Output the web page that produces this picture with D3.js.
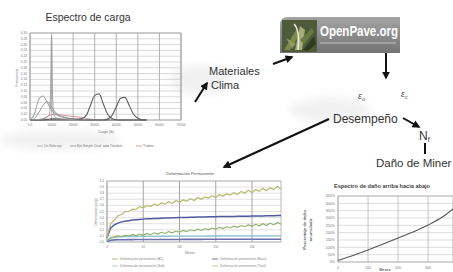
<!DOCTYPE html>
<html>
<head>
<meta charset="utf-8">
<script src="https://cdn.jsdelivr.net/npm/d3@7"></script>
<style>
  body { margin: 0; background: #fff; }
  svg { display: block; font-family: "Liberation Sans", Arial, sans-serif; }
</style>
</head>
<body>
<div id="chart"></div>
<script>
// ---- Espectro de carga (load spectra) ----
const loadBins = [0, 2000, 4000, 6000, 8000, 10000, 12000, 14000, 16000, 18000, 20000, 22000, 24000, 26000, 28000, 30000, 32000, 34000, 36000, 38000, 40000, 42000, 44000, 46000, 48000, 50000, 52000, 54000];
const singleAxle = [0, 0.02, 0.07, 0.083, 0.06, 0.035, 0.02, 0.012, 0.008, 0.005, 0.003, 0.002, 0.001, 0, 0, 0, 0, 0, 0, 0, 0, 0, 0, 0, 0, 0, 0, 0];
const dualAxle = [0, 0.004, 0.025, 0.05, 0.064, 0.045, 0.025, 0.015, 0.01, 0.006, 0.004, 0.002, 0.001, 0, 0, 0, 0, 0, 0, 0, 0, 0, 0, 0, 0, 0, 0, 0];
const tandemAxle = [0, 0, 0, 0, 0.002, 0.004, 0.004, 0.003, 0.002, 0.002, 0.002, 0.003, 0.005, 0.015, 0.05, 0.085, 0.09, 0.055, 0.02, 0.005, 0.001, 0, 0, 0, 0, 0, 0, 0];
const tridemAxle = [0, 0, 0, 0, 0, 0, 0, 0, 0, 0, 0, 0, 0, 0, 0, 0, 0, 0, 0.003, 0.015, 0.045, 0.075, 0.078, 0.05, 0.02, 0.006, 0.001, 0];
const lowAxle = [0, 0, 0, 0.004, 0.012, 0.018, 0.02, 0.018, 0.016, 0.014, 0.012, 0.011, 0.009, 0.006, 0.003, 0.001, 0, 0, 0, 0, 0, 0, 0, 0, 0, 0, 0, 0];
const spikeLoads = [0, 6000, 8000, 9000, 9600, 10000, 10400, 11000, 12000, 14000, 18000, 22000];
const spikeValues = [0, 0.004, 0.01, 0.02, 0.12, 0.29, 0.1, 0.02, 0.008, 0.004, 0.002, 0];
const loadTicks = [0, 10000, 20000, 30000, 40000, 50000, 60000, 70000];
const freqTicks = [0, 0.02, 0.04, 0.06, 0.08, 0.10, 0.12, 0.14, 0.16, 0.18, 0.20, 0.22, 0.24, 0.26, 0.28, 0.30];
const loadLegend = ["Un Solo eje", "Eje Simple Dual", "Tándem", "Trídem"];

// ---- Deformación Permanente ----
const days = [0, 5, 10, 15, 20, 25, 30, 35, 40, 45, 50, 55, 60, 65, 70, 75, 80, 85, 90, 95, 100, 105, 110, 115, 120, 125, 130, 135, 140, 145, 150, 155, 160, 165, 170, 175, 180, 185, 190, 195, 200, 205, 210, 215, 220, 225, 230, 235, 240];
const rutTotal = [0.7, 3.0, 3.6, 4.3, 4.5, 5.0, 5.0, 5.4, 5.3, 5.8, 5.6, 6.0, 5.8, 6.2, 6.0, 6.4, 6.2, 6.6, 6.3, 6.8, 6.5, 6.9, 6.7, 7.1, 6.8, 7.3, 7.0, 7.4, 7.2, 7.6, 7.3, 7.8, 7.5, 7.9, 7.7, 8.1, 7.8, 8.3, 8.0, 8.5, 8.1, 8.6, 8.3, 8.8, 8.4, 8.9, 8.6, 9.1, 8.7];
const rutBase = [0.7, 2.3, 2.8, 3.1, 3.3, 3.4, 3.5, 3.6, 3.65, 3.7, 3.75, 3.8, 3.82, 3.85, 3.87, 3.9, 3.92, 3.94, 3.96, 3.98, 4.0, 4.02, 4.03, 4.05, 4.06, 4.08, 4.09, 4.1, 4.12, 4.13, 4.14, 4.16, 4.17, 4.18, 4.19, 4.2, 4.21, 4.22, 4.23, 4.24, 4.25, 4.26, 4.27, 4.28, 4.29, 4.3, 4.31, 4.33, 4.35];
const rutAC = [0.2, 0.6, 0.8, 1.0, 0.9, 1.1, 1.0, 1.2, 1.05, 1.3, 1.1, 1.4, 1.2, 1.5, 1.3, 1.6, 1.4, 1.7, 1.5, 1.8, 1.6, 1.9, 1.7, 2.0, 1.8, 2.1, 1.9, 2.2, 2.0, 2.3, 2.1, 2.4, 2.2, 2.5, 2.3, 2.6, 2.4, 2.7, 2.5, 2.8, 2.6, 2.9, 2.65, 3.0, 2.7, 3.1, 2.8, 3.2, 2.9];
const rutSub = [0.2, 0.7, 0.8, 0.84, 0.86, 0.88, 0.89, 0.9, 0.9, 0.91, 0.91, 0.92, 0.92, 0.93, 0.93, 0.94, 0.94, 0.94, 0.95, 0.95, 0.95, 0.96, 0.96, 0.96, 0.97, 0.97, 0.97, 0.97, 0.98, 0.98, 0.98, 0.98, 0.99, 0.99, 0.99, 0.99, 1.0, 1.0, 1.0, 1.0, 1.0, 1.01, 1.01, 1.01, 1.01, 1.02, 1.02, 1.02, 1.02];
const rutSG = [0.1, 0.3, 0.35, 0.37, 0.38, 0.38, 0.39, 0.39, 0.4, 0.4, 0.4, 0.4, 0.41, 0.41, 0.41, 0.41, 0.42, 0.42, 0.42, 0.42, 0.42, 0.43, 0.43, 0.43, 0.43, 0.43, 0.43, 0.44, 0.44, 0.44, 0.44, 0.44, 0.44, 0.44, 0.45, 0.45, 0.45, 0.45, 0.45, 0.45, 0.45, 0.45, 0.46, 0.46, 0.46, 0.46, 0.46, 0.46, 0.46];
const dayTicks = [0, 50, 100, 150, 200];
const rutTicks = [0, 1, 2, 3, 4, 5, 6, 7, 8, 9, 10];
const rutLegend = ["Deformación permanente (AC)", "Deformación permanente (Base)", "Deformación permanente (Sub)", "Deformación permanente (Total)"];

// ---- Espectro de daño arriba hacia abajo ----
const months = [0, 50, 100, 150, 200, 250, 300, 350, 385];
const damage = [10, 45, 82, 122, 164, 205, 252, 310, 365];
const monthTicks = [0, 100, 200, 300];
const damageTicks = [0, 50, 100, 150, 200, 250, 300, 350, 400, 450];

const W = 453, H = 272;
const svg = d3.select("#chart").append("svg").attr("width", W).attr("height", H);

const defs = svg.append("defs");
defs.append("marker").attr("id", "arr")
  .attr("viewBox", "0 0 10 10").attr("refX", 8).attr("refY", 5)
  .attr("markerWidth", 4).attr("markerHeight", 4).attr("orient", "auto")
  .append("path").attr("d", "M0,0 L10,5 L0,10 z").attr("fill", "#111");
const lg = defs.append("linearGradient").attr("id", "logoGrad").attr("x1", 0).attr("y1", 0).attr("x2", 0).attr("y2", 1);
lg.append("stop").attr("offset", "0%").attr("stop-color", "#a3a3a3");
lg.append("stop").attr("offset", "100%").attr("stop-color", "#747474");
defs.append("filter").attr("id", "soft").append("feGaussianBlur").attr("stdDeviation", 4);

function gridChart(g, x, y, xTicks, yTicks, opt) {
  g.append("g").selectAll("line").data(yTicks).join("line")
    .attr("x1", x.range()[0]).attr("x2", x.range()[1])
    .attr("y1", d => y(d)).attr("y2", d => y(d))
    .attr("stroke", opt.hGrid).attr("stroke-width", 0.7);
  g.append("g").selectAll("line").data(xTicks).join("line")
    .attr("x1", d => x(d)).attr("x2", d => x(d))
    .attr("y1", y.range()[0]).attr("y2", y.range()[1])
    .attr("stroke", opt.vGrid).attr("stroke-width", 0.9);
  g.append("rect")
    .attr("x", x.range()[0]).attr("y", y.range()[1])
    .attr("width", x.range()[1] - x.range()[0]).attr("height", y.range()[0] - y.range()[1])
    .attr("fill", "none").attr("stroke", opt.border).attr("stroke-width", 0.8);
  g.append("g").selectAll("text").data(xTicks).join("text")
    .attr("x", d => x(d)).attr("y", y.range()[0] + opt.fs + 3)
    .attr("text-anchor", "middle").attr("font-size", opt.fs).attr("fill", "#777")
    .text(opt.xFmt);
  g.append("g").selectAll("text").data(yTicks).join("text")
    .attr("x", x.range()[0] - 3).attr("y", d => y(d) + opt.fs / 3)
    .attr("text-anchor", "end").attr("font-size", opt.fs).attr("fill", "#777")
    .text(opt.yFmt);
}

// faint shadows around the pieces of the collage
const shadows = [[200, 80, 60, 30], [330, 110, 80, 25], [60, 140, 120, 20]];
svg.append("g").attr("filter", "url(#soft)").selectAll("ellipse").data(shadows).join("ellipse")
  .attr("cx", d => d[0]).attr("cy", d => d[1]).attr("rx", d => d[2] / 2).attr("ry", d => d[3] / 2)
  .attr("fill", "#f1f1f1");

// ===== Chart 1 =====
const c1 = svg.append("g");
const x1 = d3.scaleLinear().domain([0, 70000]).range([30, 181]);
const y1 = d3.scaleLinear().domain([0, 0.30]).range([120, 33]);
gridChart(c1, x1, y1, loadTicks, freqTicks, {
  hGrid: "#c8c8c8", vGrid: "#a8a8a8", border: "#999", fs: 3.2,
  xFmt: d => d === 0 ? "0.0" : d3.format("d")(d), yFmt: d => d3.format(".2f")(d)
});
c1.append("text").attr("x", 88).attr("y", 21).attr("text-anchor", "middle")
  .attr("font-size", 10.5).attr("fill", "#333").text("Espectro de carga");
c1.append("text").attr("x", 106).attr("y", 133).attr("text-anchor", "middle")
  .attr("font-size", 3.5).attr("fill", "#777").text("Carga (lb)");
c1.append("text").attr("transform", "translate(18,78) rotate(-90)").attr("text-anchor", "middle")
  .attr("font-size", 3.5).attr("fill", "#777").text("Frecuencia");

const line1 = d3.line().x(d => x1(d[0])).y(d => y1(d[1])).curve(d3.curveMonotoneX);
const loadSeries = [
  { v: lowAxle, c: "#c98a94", w: 0.9 },
  { v: singleAxle, c: "#a8a8a8", w: 1.1 },
  { v: dualAxle, c: "#8f8f8f", w: 0.9 },
  { v: tandemAxle, c: "#5e5e5e", w: 1.1 },
  { v: tridemAxle, c: "#5e5e5e", w: 1.1 }
];
loadSeries.forEach(s => {
  c1.append("path").datum(loadBins.map((b, i) => [b, s.v[i]]))
    .attr("d", line1).attr("fill", "none").attr("stroke", s.c).attr("stroke-width", s.w);
});
c1.append("path").datum(spikeLoads.map((b, i) => [b, spikeValues[i]]))
  .attr("d", line1).attr("fill", "none").attr("stroke", "#9a9a9a").attr("stroke-width", 1);

const leg1 = c1.append("g").selectAll("g").data(loadLegend).join("g")
  .attr("transform", (d, i) => `translate(${37 + i * 33},146)`);
leg1.append("line").attr("x1", 0).attr("x2", 6).attr("stroke", (d, i) => ["#a8a8a8", "#8f8f8f", "#5e5e5e", "#c98a94"][i]).attr("stroke-width", 0.8);
leg1.append("text").attr("x", 7).attr("y", 1.2).attr("font-size", 3.4).attr("fill", "#777").text(d => d);

// ===== OpenPave.org logo =====
const logo = svg.append("g");
logo.append("path")
  .attr("d", "M288,17 H400 V53 H280 V25 Q280,17 288,17 Z")
  .attr("fill", "url(#logoGrad)");
logo.append("rect").attr("x", 282).attr("y", 20).attr("width", 35).attr("height", 32).attr("fill", "#4e5a3a");
const leaves = [
  "M284,50 L296,30 L300,34 L290,50 Z",
  "M295,50 L300,26 L305,30 L302,50 Z",
  "M303,50 L314,36 L316,44 L308,51 Z",
  "M286,38 L296,44 L292,48 Z",
  "M300,40 L312,28 L314,32 L304,44 Z"
];
logo.append("g").selectAll("path").data(leaves).join("path")
  .attr("d", d => d).attr("fill", (d, i) => ["#7d8a4a", "#a3ad74", "#2f3a20", "#8f9b5e", "#6a7a40"][i]);
logo.append("path").attr("d", "M294,24 Q300,30 298,50").attr("stroke", "#e8e8e0").attr("stroke-width", 1.6).attr("fill", "none");
logo.append("text").attr("x", 320).attr("y", 36).attr("font-size", 15).attr("font-weight", "bold")
  .attr("fill", "#fff").attr("textLength", 78).attr("lengthAdjust", "spacingAndGlyphs").text("OpenPave.org");
logo.append("line").attr("x1", 320).attr("x2", 396).attr("y1", 43).attr("y2", 43).attr("stroke", "#c4c4c4").attr("stroke-width", 1.2);

// ===== Labels and arrows =====
const txt = svg.append("g").attr("fill", "#333");
txt.append("text").attr("x", 209).attr("y", 75).attr("font-size", 11).text("Materiales");
txt.append("text").attr("x", 211).attr("y", 89).attr("font-size", 11).text("Clima");
txt.append("text").attr("x", 333).attr("y", 123).attr("font-size", 12).text("Desempeño");
txt.append("text").attr("x", 376).attr("y", 167).attr("font-size", 11.5).text("Daño de Miner");
const nf = txt.append("text").attr("x", 419).attr("y", 140).attr("font-size", 12);
nf.append("tspan").text("N");
nf.append("tspan").attr("font-size", 7).attr("dy", 2).text("f");
const ea = txt.append("text").attr("x", 358).attr("y", 99).attr("font-size", 9).attr("font-style", "italic").attr("fill", "#555");
ea.append("tspan").text("ε");
ea.append("tspan").attr("font-size", 5).attr("dy", 2).text("σ");
const ec = txt.append("text").attr("x", 401).attr("y", 97).attr("font-size", 9).attr("font-style", "italic").attr("fill", "#555");
ec.append("tspan").text("ε");
ec.append("tspan").attr("font-size", 5).attr("dy", 2).text("c");

const arrows = [
  [273, 64, 292, 57],
  [195, 102, 207, 83],
  [386, 53, 386, 78],
  [403, 118, 419, 127],
  [329, 119, 224, 167]
];
svg.append("g").selectAll("line").data(arrows).join("line")
  .attr("x1", d => d[0]).attr("y1", d => d[1]).attr("x2", d => d[2]).attr("y2", d => d[3])
  .attr("stroke", "#111").attr("stroke-width", 2).attr("marker-end", "url(#arr)");
svg.append("line").attr("x1", 425).attr("x2", 425).attr("y1", 143).attr("y2", 154)
  .attr("stroke", "#111").attr("stroke-width", 2);

// ===== Chart 3: Deformación Permanente =====
const c3 = svg.append("g");
const x3 = d3.scaleLinear().domain([0, 240]).range([107, 281]);
const y3 = d3.scaleLinear().domain([0, 10]).range([242, 181]);
gridChart(c3, x3, y3, dayTicks, rutTicks, {
  hGrid: "#d6d6d6", vGrid: "#9c9c9c", border: "#aaa", fs: 3,
  xFmt: d => d, yFmt: d => d3.format(".1f")(d / 10)
});
c3.append("text").attr("x", 190).attr("y", 175).attr("text-anchor", "middle")
  .attr("font-size", 4.2).attr("fill", "#555").text("Deformación Permanente");
c3.append("text").attr("x", 190).attr("y", 254).attr("text-anchor", "middle")
  .attr("font-size", 3.4).attr("fill", "#777").text("Meses");
c3.append("text").attr("transform", "translate(97,212) rotate(-90)").attr("text-anchor", "middle")
  .attr("font-size", 3.2).attr("fill", "#777").text("Deformación (pulg)");

const line3 = d3.line().x(d => x3(d[0])).y(d => y3(d[1]));
const rutSeries = [
  { v: rutSG, c: "#6c6fb0", w: 1.6 },
  { v: rutSub, c: "#8fc4d4", w: 1.3 },
  { v: rutAC, c: "#8fb06a", w: 1.1 },
  { v: rutBase, c: "#4f5aa0", w: 1.5 },
  { v: rutTotal, c: "#b8b870", w: 1.2 }
];
rutSeries.forEach(s => {
  c3.append("path").datum(days.map((t, i) => [t, s.v[i]]))
    .attr("d", line3).attr("fill", "none").attr("stroke", s.c).attr("stroke-width", s.w);
});
const leg3 = c3.append("g").selectAll("g").data(rutLegend).join("g")
  .attr("transform", (d, i) => `translate(${(i % 2 ? 212 : 112)},${259 + Math.floor(i / 2) * 7})`);
leg3.append("line").attr("x1", 0).attr("x2", 6).attr("stroke", (d, i) => ["#8fb06a", "#4f5aa0", "#8fc4d4", "#b8b870"][i]).attr("stroke-width", 0.8);
leg3.append("text").attr("x", 8).attr("y", 1.2).attr("font-size", 3.2).attr("fill", "#888").text(d => d);

// ===== Chart 4: Espectro de daño =====
const c4 = svg.append("g");
const x4 = d3.scaleLinear().domain([0, 383]).range([338, 453]);
const y4 = d3.scaleLinear().domain([0, 450]).range([262, 196]);
gridChart(c4, x4, y4, monthTicks, damageTicks, {
  hGrid: "#d0d0d0", vGrid: "#bdbdbd", border: "#aaa", fs: 3.6,
  xFmt: d => d, yFmt: d => d + "%"
});
c4.append("text").attr("x", 382).attr("y", 188).attr("text-anchor", "middle")
  .attr("font-size", 5.6).attr("font-weight", "bold").attr("fill", "#444").text("Espectro de daño arriba hacia abajo");
c4.append("text").attr("x", 385).attr("y", 270.5).attr("text-anchor", "middle")
  .attr("font-size", 3.8).attr("font-weight", "bold").attr("fill", "#666").text("Meses");
const yl4 = c4.append("text").attr("transform", "translate(306,230) rotate(-90)").attr("text-anchor", "middle")
  .attr("font-size", 4.3).attr("font-weight", "bold").attr("fill", "#666");
yl4.append("tspan").attr("x", 0).attr("dy", 0).text("Porcentaje de daño");
yl4.append("tspan").attr("x", 0).attr("dy", 6).text("acumulado");
c4.append("path").datum(months.map((m, i) => [m, damage[i]]))
  .attr("d", d3.line().x(d => x4(d[0])).y(d => y4(d[1])).curve(d3.curveMonotoneX))
  .attr("fill", "none").attr("stroke", "#555").attr("stroke-width", 1.1);
</script>
</body>
</html>
